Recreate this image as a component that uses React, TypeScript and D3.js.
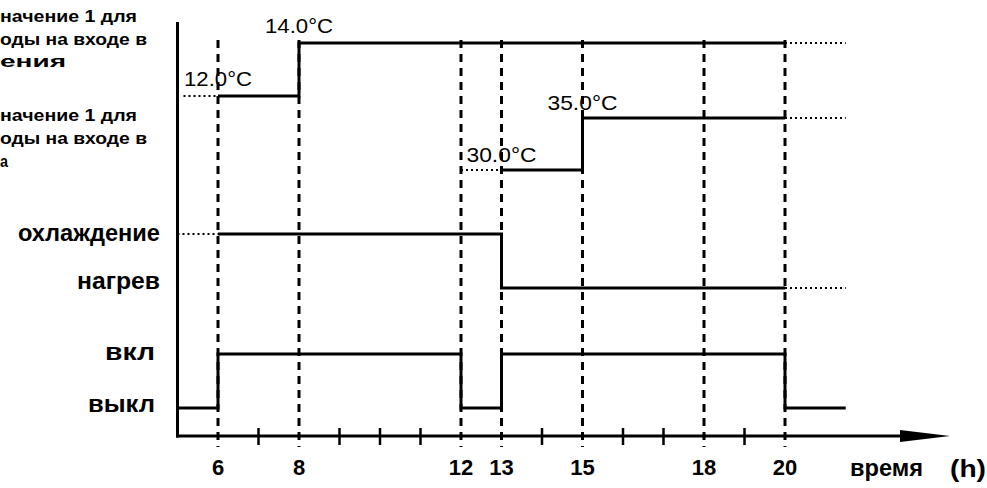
import React from "react";
import * as d3 from "d3";

// ---- data ----
const majorHours = [6, 8, 12, 13, 15, 18, 20];
const minorHours = [7, 9, 10, 11, 14, 16, 17, 19];
const coolSetpoint = [
  { t: 6, v: 12.0 },
  { t: 8, v: 14.0 },
  { t: 20, v: 14.0 },
];
const heatSetpoint = [
  { t: 13, v: 30.0 },
  { t: 15, v: 35.0 },
  { t: 20, v: 35.0 },
];
const modeLevels = ["охлаждение", "нагрев"];
const modeSeries = [
  { t: 6, v: "охлаждение" },
  { t: 13, v: "нагрев" },
  { t: 20, v: "нагрев" },
];
const onOffLevels = ["вкл", "выкл"];
const onOffSeries = [
  { t: 5, v: "выкл" },
  { t: 6, v: "вкл" },
  { t: 12, v: "выкл" },
  { t: 13, v: "вкл" },
  { t: 20, v: "выкл" },
  { t: 21.5, v: "выкл" },
];
const coolLabels = ["12.0°C", "14.0°C"];
const heatLabels = ["30.0°C", "35.0°C"];
const legendTop = ["начение 1 для", "оды на входе в", "ения"];
const legendBottom = ["начение 1 для", "оды на входе в", "а"];
const xTitleWord = "время";
const xTitleUnit = "(h)";
const startHour = 5;
const endHour = 21.5;

const FONT = "'Liberation Sans', Arial, sans-serif";

// rendered widths to match the reference's wider typeface
const legendWidths = [137, 147, 66];
const legendWidthsB = [137, 147, 8];
const levelWidths: Record<string, number> = { охлаждение: 142, нагрев: 83, вкл: 50, выкл: 67 };
const levelRight: Record<string, number> = { охлаждение: 160, нагрев: 160, вкл: 155, выкл: 155 };
const levelDy: Record<string, number> = { охлаждение: 7, нагрев: 1, вкл: 6, выкл: 4 };

export default function App() {
  const x = d3.scaleLinear().domain([6, 20]).range([218, 785]);
  const coolY = d3.scaleLinear().domain([12, 14]).range([96, 43]);
  const heatY = d3.scaleLinear().domain([30, 35]).range([170, 118]);
  const modeY = d3.scalePoint<string>().domain(modeLevels).range([234, 288]);
  const onY = d3.scalePoint<string>().domain(onOffLevels).range([354, 408]);
  const axisY = 436;
  const topY = 22;

  const stepLine = (yf: (d: any) => number) =>
    d3
      .line<any>()
      .x((d) => x(d.t))
      .y(yf)
      .curve(d3.curveStepAfter);

  const coolPath = stepLine((d) => coolY(d.v))(coolSetpoint)!;
  const heatPath = stepLine((d) => heatY(d.v))(heatSetpoint)!;
  const modePath = stepLine((d) => modeY(d.v)!)(modeSeries)!;
  const onPath = stepLine((d) => onY(d.v)!)(onOffSeries)!;

  const dotted = { stroke: "#000", strokeWidth: 2, strokeDasharray: "2 3", fill: "none" };
  const solid = { stroke: "#000", strokeWidth: 3, fill: "none" };

  const first = (a: any[]) => a[0];
  const last = (a: any[]) => a[a.length - 1];

  return (
    <svg
      width={987}
      height={488}
      style={{ position: "absolute", left: 0, top: 0, background: "#fff" }}
      fontFamily={FONT}
    >
      <rect width={987} height={488} fill="#fff" />
      {/* legend text (cut off at left) */}
      {legendTop.map((s, i) => (
        <text key={"lt" + i} x={0} y={22 + i * 22.5} fontSize={17} fontWeight="bold"
          textLength={legendWidths[i]} lengthAdjust="spacingAndGlyphs">
          {s}
        </text>
      ))}
      {legendBottom.map((s, i) => (
        <text key={"lb" + i} x={0} y={121 + i * 23} fontSize={17} fontWeight="bold"
          textLength={legendWidthsB[i]} lengthAdjust="spacingAndGlyphs">
          {s}
        </text>
      ))}

      {/* dashed verticals */}
      {majorHours.map((h) => (
        <line
          key={"v" + h}
          x1={x(h)}
          x2={x(h)}
          y1={40}
          y2={447}
          stroke="#000"
          strokeWidth={3}
          strokeDasharray="8 6"
        />
      ))}
      {/* minor ticks */}
      {minorHours.map((h) => (
        <line key={"m" + h} x1={x(h)} x2={x(h)} y1={428} y2={445} stroke="#000" strokeWidth={2.5} />
      ))}

      {/* axes */}
      <line x1={x(startHour)} x2={x(startHour)} y1={topY} y2={axisY + 1.5} stroke="#000" strokeWidth={3} />
      <line x1={x(startHour) - 1.5} x2={905} y1={axisY} y2={axisY} stroke="#000" strokeWidth={3} />
      <polygon points={`900,430 950,436 900,442`} fill="#000" />

      {/* cooling setpoint */}
      <line x1={x(startHour) + 6} x2={x(first(coolSetpoint).t)} y1={coolY(first(coolSetpoint).v)} y2={coolY(first(coolSetpoint).v)} {...dotted} />
      <path d={coolPath} {...solid} />
      <line x1={x(last(coolSetpoint).t)} x2={x(endHour)} y1={coolY(last(coolSetpoint).v)} y2={coolY(last(coolSetpoint).v)} {...dotted} />
      {coolSetpoint.slice(0, 2).map((d, i) => (
        <text key={"cl" + i} x={x(d.t) - 34} y={coolY(d.v) - 10} fontSize={21}
          textLength={68} lengthAdjust="spacingAndGlyphs">
          {coolLabels[i]}
        </text>
      ))}

      {/* heating setpoint */}
      <line x1={x(12)} x2={x(first(heatSetpoint).t)} y1={heatY(first(heatSetpoint).v)} y2={heatY(first(heatSetpoint).v)} {...dotted} />
      <path d={heatPath} {...solid} />
      <line x1={x(last(heatSetpoint).t)} x2={x(endHour)} y1={heatY(last(heatSetpoint).v)} y2={heatY(last(heatSetpoint).v)} {...dotted} />
      {heatSetpoint.slice(0, 2).map((d, i) => (
        <text key={"hl" + i} x={x(d.t) - 35} y={heatY(d.v) - 8} fontSize={21}
          textLength={70} lengthAdjust="spacingAndGlyphs">
          {heatLabels[i]}
        </text>
      ))}

      {/* mode */}
      <line x1={x(startHour)} x2={x(first(modeSeries).t)} y1={modeY(first(modeSeries).v)} y2={modeY(first(modeSeries).v)} {...dotted} />
      <path d={modePath} {...solid} />
      <line x1={x(last(modeSeries).t)} x2={x(endHour)} y1={modeY(last(modeSeries).v)} y2={modeY(last(modeSeries).v)} {...dotted} />

      {/* on/off */}
      <path d={onPath} {...solid} />

      {/* level labels */}
      {[...modeLevels.map((l) => ({ l, y: modeY(l)! })), ...onOffLevels.map((l) => ({ l, y: onY(l)! }))].map(
        ({ l, y }) => (
          <text key={l} x={levelRight[l] - levelWidths[l]} y={y + levelDy[l]} fontSize={23} fontWeight="bold"
            textLength={levelWidths[l]} lengthAdjust="spacingAndGlyphs">
            {l}
          </text>
        )
      )}

      {/* tick labels */}
      {majorHours.map((h) => (
        <text key={"t" + h} x={x(h)} y={475} fontSize={22} fontWeight="bold" textAnchor="middle">
          {h}
        </text>
      ))}
      <text x={850} y={476} fontSize={23} fontWeight="bold" textLength={73} lengthAdjust="spacingAndGlyphs">
        {xTitleWord}
      </text>
      <text x={950} y={477} fontSize={23} fontWeight="bold" textLength={36} lengthAdjust="spacingAndGlyphs">
        {xTitleUnit}
      </text>
    </svg>
  );
}
